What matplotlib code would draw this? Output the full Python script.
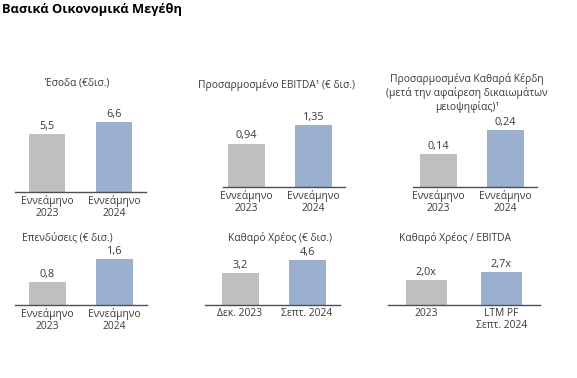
import numpy as np
import matplotlib.pyplot as plt

plt.rcParams['font.family'] = ['Open Sans', 'DejaVu Sans']

W, H = 577, 378

main_title = "Βασικά Οικονομικά Μεγέθη"

titles = [
    "Έσοδα (€δισ.)",
    "Προσαρμοσμένο EBITDA¹ (€ δισ.)",
    "Προσαρμοσμένα Καθαρά Κέρδη\n(μετά την αφαίρεση δικαιωμάτων\nμειοψηφίας)¹",
    "Επενδύσεις (€ δισ.)",
    "Καθαρό Χρέος (€ δισ.)",
    "Καθαρό Χρέος / EBITDA",
]
cats = [
    ["Εννεάμηνο\n2023", "Εννεάμηνο\n2024"],
    ["Εννεάμηνο\n2023", "Εννεάμηνο\n2024"],
    ["Εννεάμηνο\n2023", "Εννεάμηνο\n2024"],
    ["Εννεάμηνο\n2023", "Εννεάμηνο\n2024"],
    ["Δεκ. 2023", "Σεπτ. 2024"],
    ["2023", "LTM PF\nΣεπτ. 2024"],
]
values = [
    [5.5, 6.6],
    [0.94, 1.35],
    [0.14, 0.24],
    [0.8, 1.6],
    [3.2, 4.6],
    [2.0, 2.7],
]
value_labels = [
    ["5,5", "6,6"],
    ["0,94", "1,35"],
    ["0,14", "0,24"],
    ["0,8", "1,6"],
    ["3,2", "4,6"],
    ["2,0x", "2,7x"],
]

# layout in pixels: axis line left/right, baseline y, first bar center, bar gap, bar width, px per unit
layout = [
    (15, 146, 192, 47, 67, 36, 10.55),
    (223, 345, 187, 246.5, 67, 37, 46.2),
    (413, 537, 187, 438.5, 67, 37, 236),
    (15, 147, 305, 47.5, 67, 37, 28.8),
    (205, 340, 305, 240, 67, 37, 9.85),
    (388, 540, 305, 426.5, 75, 41, 12.3),
]
title_pos = [(77, 83), (277, 85), (467, 93), (67, 238), (280, 238), (455, 238)]

colors = ['#BFBFBF', '#9BAFCF']
text_col = '#3a3a3a'
line_col = '#4a4f5c'

fig = plt.figure(figsize=(W / 100, H / 100), dpi=100)
fig.text(2 / W, 1 - 10 / H, main_title, fontsize=9.3, fontweight='bold',
         color='black', ha='left', va='center')

for i in range(6):
    L, R, base, c0, gap, bw, scale = layout[i]
    ah = 90
    ax = fig.add_axes([L / W, 1 - base / H, (R - L) / W, ah / H])
    x = np.arange(2)
    bars = ax.bar(x, values[i], width=bw / gap, color=colors)
    ax.set_xlim((L - c0) / gap, (R - c0) / gap)
    ax.set_ylim(0, ah / scale)
    ax.bar_label(bars, labels=value_labels[i], padding=1.5, fontsize=7.8, color=text_col)
    ax.set_xticks(x)
    ax.set_xticklabels(cats[i], fontsize=7.4, color=text_col, linespacing=1.1)
    ax.tick_params(axis='x', length=0, pad=2.5)
    ax.set_yticks([])
    for s in ['top', 'right', 'left']:
        ax.spines[s].set_visible(False)
    ax.spines['bottom'].set_color(line_col)
    ax.spines['bottom'].set_linewidth(1.0)
    ax.patch.set_visible(False)
    tx, ty = title_pos[i]
    fig.text(tx / W, 1 - ty / H, titles[i], fontsize=7.4, color=text_col,
             ha='center', va='center', linespacing=1.2)

fig.savefig('out.png', dpi=100)
